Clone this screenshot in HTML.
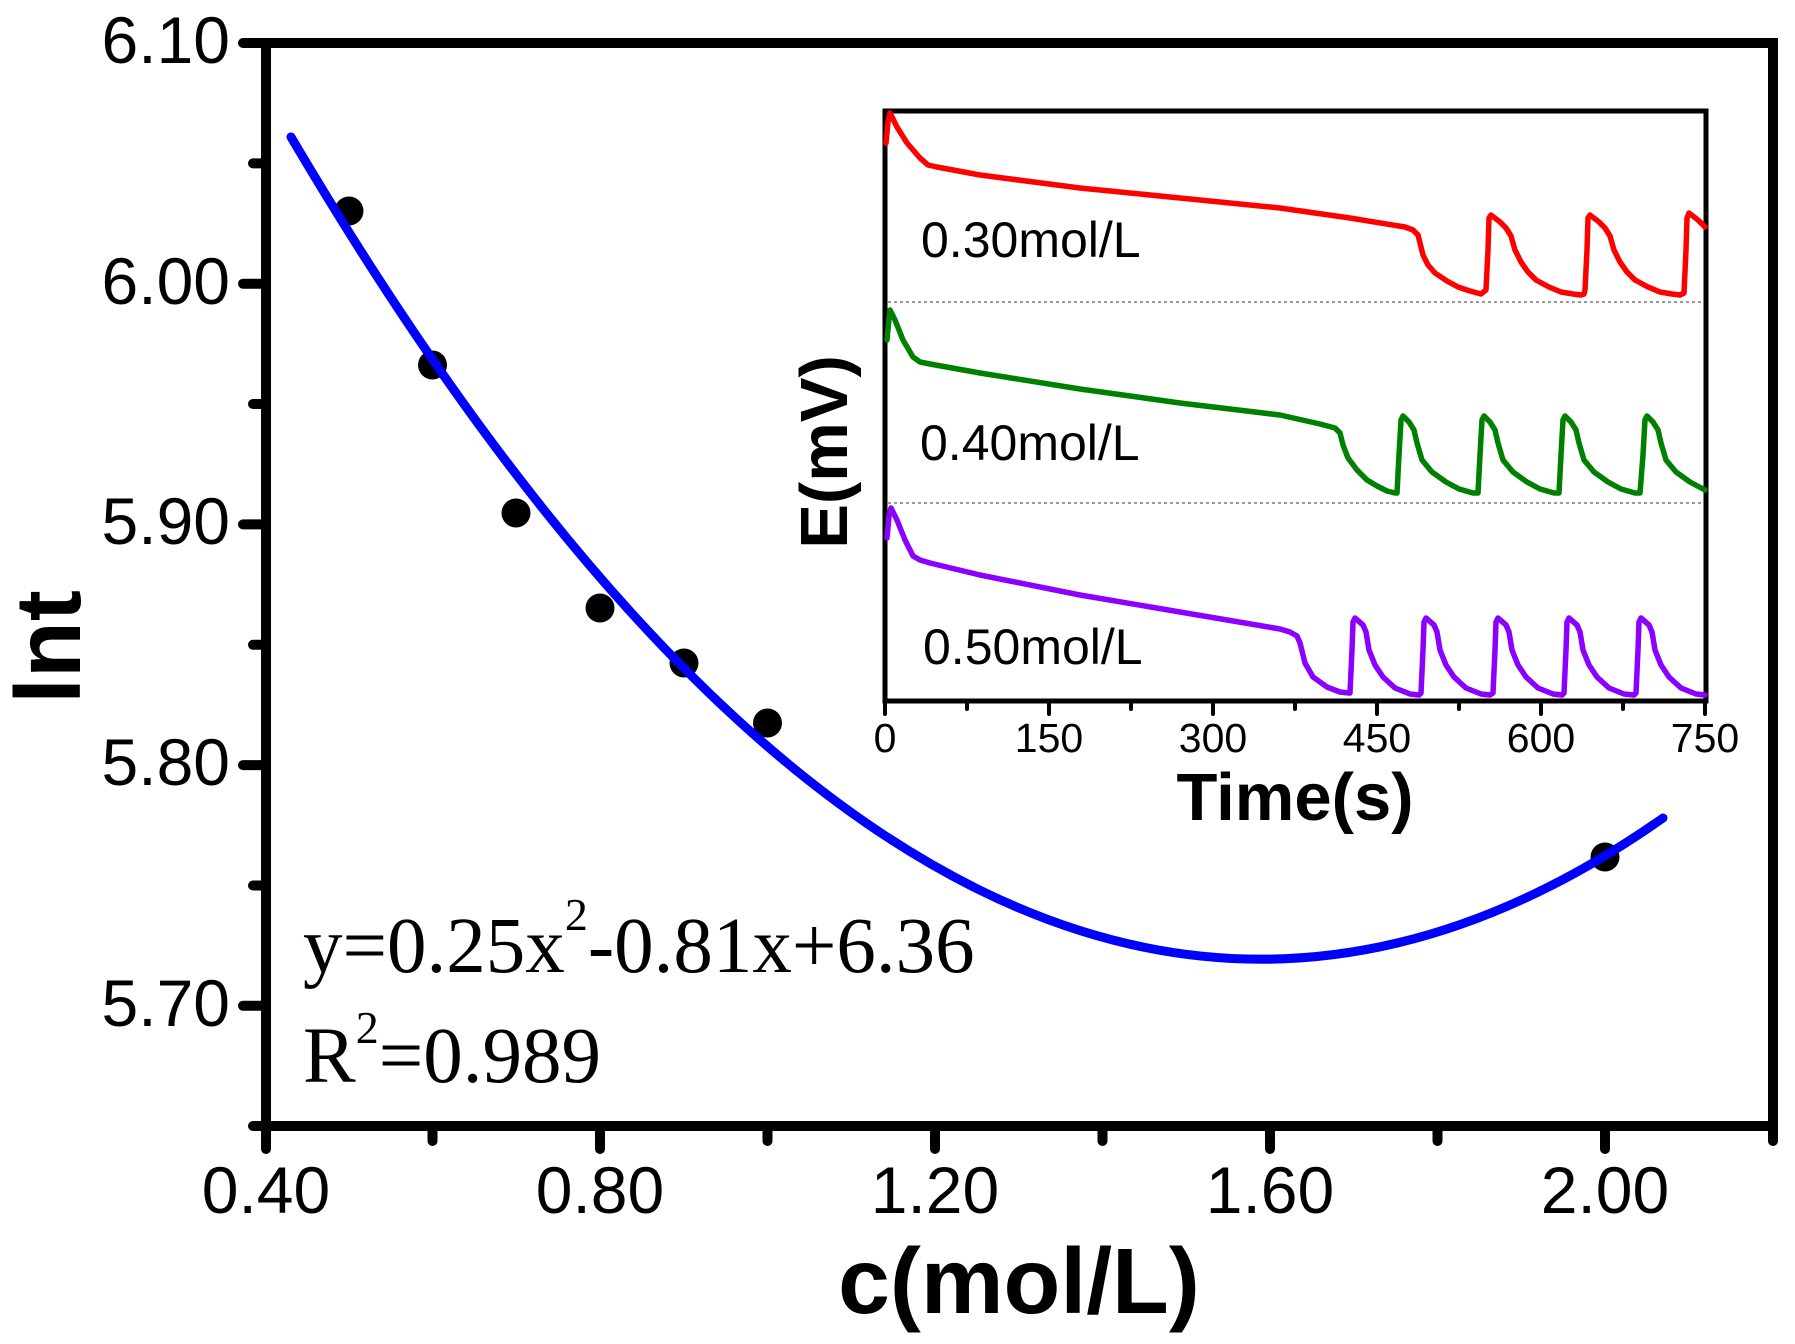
<!DOCTYPE html>
<html>
<head>
<meta charset="utf-8">
<style>
html,body{margin:0;padding:0;background:#fff;}
svg{display:block;}
text{font-family:"Liberation Sans",Arial,sans-serif;fill:#000;}
.serif{font-family:"Liberation Serif","Times New Roman",serif;}
</style>
</head>
<body>
<svg width="1795" height="1344" viewBox="0 0 1795 1344" xmlns="http://www.w3.org/2000/svg">
<rect x="0" y="0" width="1795" height="1344" fill="#fff"/>

<!-- main frame -->
<rect x="266" y="43" width="1507" height="1083" fill="none" stroke="#000" stroke-width="10"/>
<g stroke="#000" stroke-width="10" stroke-linecap="round" fill="none">
  <path d="M243,43H266 M243,283.7H266 M243,524.4H266 M243,765.1H266 M243,1005.8H266"/>
  <path d="M253,163.4H266 M253,404H266 M253,644.8H266 M253,885.5H266 M253,1126H266"/>
  <path d="M266,1126V1149 M600,1126V1149 M935,1126V1149 M1270,1126V1149 M1605,1126V1149"/>
  <path d="M432.5,1126V1141 M767.5,1126V1141 M1102.5,1126V1141 M1437.5,1126V1141 M1773,1126V1141"/>
</g>

<!-- y tick labels -->
<g font-size="66" text-anchor="end">
  <text x="230" y="63">6.10</text>
  <text x="230" y="304">6.00</text>
  <text x="230" y="544">5.90</text>
  <text x="230" y="785">5.80</text>
  <text x="230" y="1026">5.70</text>
</g>
<!-- x tick labels -->
<g font-size="66" text-anchor="middle">
  <text x="266" y="1213">0.40</text>
  <text x="600" y="1213">0.80</text>
  <text x="935" y="1213">1.20</text>
  <text x="1270" y="1213">1.60</text>
  <text x="1605" y="1213">2.00</text>
</g>

<!-- axis titles -->
<text x="0" y="0" font-size="93" font-weight="bold" text-anchor="middle" transform="translate(80,647) rotate(-90)">lnt</text>
<text x="1019" y="1313" font-size="93" font-weight="bold" text-anchor="middle">c(mol/L)</text>

<!-- data points -->
<g fill="#000">
  <circle cx="349" cy="211" r="14.5"/>
  <circle cx="432.5" cy="365" r="14.5"/>
  <circle cx="516" cy="513" r="14.5"/>
  <circle cx="600" cy="608" r="14.5"/>
  <circle cx="684" cy="663" r="14.5"/>
  <circle cx="767.5" cy="723" r="14.5"/>
  <circle cx="1605" cy="857" r="14.5"/>
</g>

<!-- fit curve -->
<path d="M291,137 Q977,1300 1663,818" fill="none" stroke="#0000ff" stroke-width="9" stroke-linecap="round"/>

<!-- equation -->
<text class="serif" x="303" y="972" font-size="79">y=0.25x<tspan font-size="46" dy="-42">2</tspan><tspan dy="42">-0.81x+6.36</tspan></text>
<text class="serif" x="303" y="1082" font-size="79">R<tspan font-size="46" dy="-39">2</tspan><tspan dy="39">=0.989</tspan></text>

<!-- ===== inset ===== -->
<rect x="885" y="111" width="821" height="590" fill="#fff" stroke="#000" stroke-width="5"/>
<g stroke="#000" stroke-width="4" stroke-linecap="round">
  <path d="M885,701V714 M1049,701V714 M1213,701V714 M1377,701V714 M1541,701V714 M1705,701V714"/>
  <path d="M967,701V709 M1131,701V709 M1295,701V709 M1459,701V709 M1623,701V709"/>
</g>
<g font-size="41" text-anchor="middle">
  <text x="885" y="752">0</text>
  <text x="1049" y="752">150</text>
  <text x="1213" y="752">300</text>
  <text x="1377" y="752">450</text>
  <text x="1541" y="752">600</text>
  <text x="1705" y="752">750</text>
</g>
<text x="1295" y="820" font-size="67" font-weight="bold" text-anchor="middle">Time(s)</text>
<text x="0" y="0" font-size="67" font-weight="bold" text-anchor="middle" transform="translate(847,452) rotate(-90)">E(mV)</text>

<!-- dotted separators -->
<g stroke="#999" stroke-width="2" stroke-dasharray="3,3">
  <line x1="888" y1="302" x2="1703" y2="302"/>
  <line x1="888" y1="503" x2="1703" y2="503"/>
</g>

<!-- labels -->
<g font-size="50">
  <text x="921" y="257">0.30mol/L</text>
  <text x="920" y="460">0.40mol/L</text>
  <text x="923" y="664">0.50mol/L</text>
</g>

<!-- red -->
<path fill="none" stroke="#ff0000" stroke-width="5.5" stroke-linejoin="round" stroke-linecap="round"
d="M886,143 L888,122 L890,113 L897,127 L907,143 L920,158 L928,165 L937,167 L980,175 L1080,188 L1180,198 L1280,208 L1350,218 L1405,227 L1413,230 L1418,235 L1420,243 L1423,255 L1428,265 L1435,273 L1447,281 L1458,287 L1470,291 L1481,294
L1486,290 L1488,250 L1489,218 L1491,215 L1500,222 L1506,228 L1511,236 L1515,250 L1521,262 L1528,272 L1536,280 L1549,287 L1561,292 L1573,294 L1581,295
L1584,294 L1585,290 L1587,250 L1588,218 L1590,215 L1599,222 L1605,228 L1610,236 L1614,250 L1620,262 L1627,272 L1635,280 L1648,287 L1660,292 L1672,294 L1680,295
L1684,293 L1686,250 L1687,218 L1689,213 L1698,220 L1705,227"/>

<!-- green -->
<path fill="none" stroke="#008000" stroke-width="5.5" stroke-linejoin="round" stroke-linecap="round"
d="M887,340 L889,318 L890,310 L895,320 L903,340 L913,357 L920,362 L930,364 L980,373 L1080,389 L1180,403 L1280,415 L1320,424 L1335,428 L1340,433 L1343,445 L1348,458 L1357,470 L1367,480 L1377,486 L1387,491 L1395,493
L1397,493 L1399,455 L1401,420 L1403,416 L1409,422 L1414,430 L1417,443 L1422,460 L1432,472 L1446,482 L1459,489 L1473,493 L1477,493
L1478,493 L1480,455 L1482,420 L1484,416 L1490,422 L1495,430 L1498,443 L1503,460 L1513,472 L1527,482 L1540,489 L1554,493 L1558,493
L1559,493 L1561,455 L1563,420 L1565,416 L1571,422 L1576,430 L1579,443 L1584,460 L1594,472 L1608,482 L1621,489 L1635,493 L1640,493
L1643,455 L1645,420 L1647,416 L1653,422 L1658,430 L1661,443 L1666,460 L1676,472 L1690,482 L1705,490"/>

<!-- purple -->
<path fill="none" stroke="#8b00ff" stroke-width="5.5" stroke-linejoin="round" stroke-linecap="round"
d="M887,538 L889,516 L891,508 L897,520 L905,540 L913,556 L920,560 L930,563 L980,575 L1080,595 L1180,612 L1280,629 L1290,632 L1297,636 L1300,643 L1305,663 L1313,677 L1327,687 L1340,692 L1349,693
L1350,693 L1352,650 L1353,622 L1355,618 L1363,625 L1366,632 L1369,650 L1375,665 L1383,677 L1395,688 L1410,694 L1419,695
L1421,693 L1423,650 L1424,622 L1426,618 L1434,625 L1437,632 L1440,650 L1446,665 L1454,677 L1466,688 L1481,694 L1490,695
L1493,693 L1495,650 L1496,622 L1498,618 L1506,625 L1509,632 L1512,650 L1518,665 L1526,677 L1538,688 L1553,694 L1562,695
L1564,693 L1566,650 L1567,622 L1569,618 L1577,625 L1580,632 L1583,650 L1589,665 L1597,677 L1609,688 L1624,694 L1634,695
L1636,693 L1638,650 L1639,622 L1641,618 L1649,625 L1652,632 L1655,650 L1661,665 L1669,677 L1681,688 L1696,694 L1705,695"/>

</svg>
</body>
</html>
